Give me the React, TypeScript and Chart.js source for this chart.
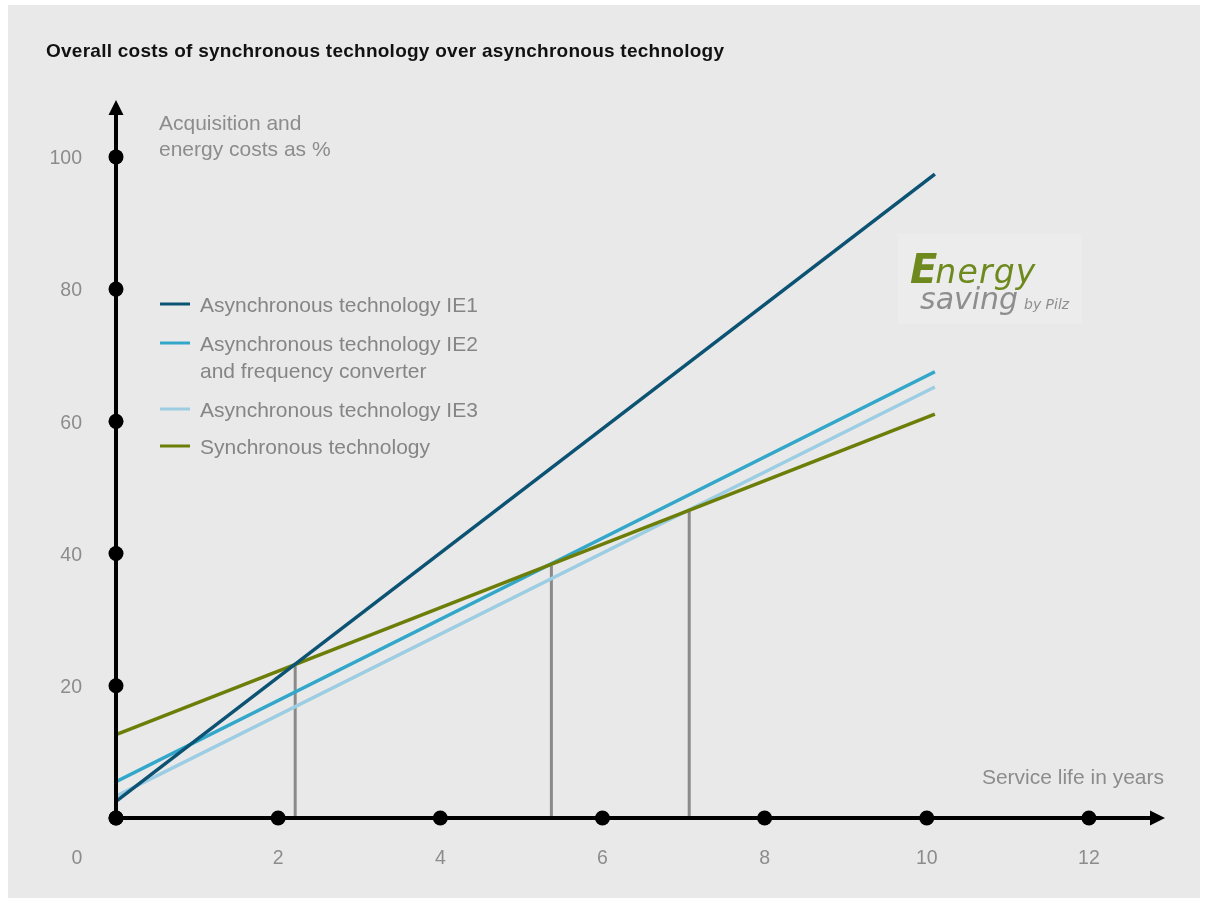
import React, { useEffect, useRef } from "react";
import { Chart, registerables } from "chart.js";

Chart.register(...registerables);

const TITLE = "Overall costs of synchronous technology over asynchronous technology";
const Y_TITLE = ["Acquisition and", "energy costs as %"];
const X_TITLE = "Service life in years";
const X_TICKS = [0, 2, 4, 6, 8, 10, 12];
const Y_TICKS = [0, 20, 40, 60, 80, 100];

const SERIES_NAMES = [
  ["Asynchronous technology IE1"],
  ["Asynchronous technology IE2", "and frequency converter"],
  ["Asynchronous technology IE3"],
  ["Synchronous technology"],
];
const SERIES_COLORS = ["#0b5273", "#32a7c9", "#9ccde3", "#6c7e08"];
const YEARS = [0, 10.1];
const IE1 = [2.5, 97.4];
const IE2 = [5.5, 67.5];
const IE3 = [3.3, 65.2];
const SYNC = [12.6, 61.1];
const SERIES_VALUES = [IE1, IE2, IE3, SYNC];
const SERIES_ORDER = [0, 2, 3, 1];

const BREAK_EVEN_X = [2.21, 5.37, 7.07];
const BREAK_EVEN_Y = [23.1, 38.2, 46.4];

const GRAY_TEXT = "#8c8c8c";
const FONT = "'Liberation Sans', Arial, Helvetica, sans-serif";

function fitText(ctx: any, text: string, x: number, y: number, target: number) {
  ctx.letterSpacing = "0px";
  const w = ctx.measureText(text).width;
  const sp = (target - w) / Math.max(1, text.length - 1);
  ctx.letterSpacing = `${sp}px`;
  ctx.fillText(text, x, y);
  ctx.letterSpacing = "0px";
}

const decorPlugin = {
  id: "decor",
  beforeDatasetsDraw(chart: any) {
    const { ctx, chartArea, scales } = chart;
    const xs = scales.x;
    const ys = scales.y;
    ctx.save();
    // title
    ctx.fillStyle = "#111";
    ctx.font = `bold 19px ${FONT}`;
    ctx.textBaseline = "middle";
    ctx.textAlign = "left";
    fitText(ctx, TITLE, 38, 47, 678);

    // logo box
    ctx.fillStyle = "#ececec";
    ctx.fillRect(890, 229, 184, 90);
    ctx.fillStyle = "#6e8a1e";
    ctx.textBaseline = "alphabetic";
    ctx.font = `italic bold 40px 'DejaVu Sans', ${FONT}`;
    ctx.fillText("E", 902, 278);
    const ew = ctx.measureText("E").width;
    ctx.font = `italic 33px 'DejaVu Sans', ${FONT}`;
    fitText(ctx, "nergy", 902 + ew - 2, 278, 100);
    ctx.fillStyle = "#8e8e8e";
    ctx.font = `italic 30px 'DejaVu Sans', ${FONT}`;
    ctx.fillText("saving", 912, 304);
    ctx.font = `italic 14px 'DejaVu Sans', ${FONT}`;
    ctx.fillText("by Pilz", 1016, 304);

    // axis titles
    ctx.fillStyle = GRAY_TEXT;
    ctx.font = `21px ${FONT}`;
    ctx.textBaseline = "middle";
    ctx.textAlign = "left";
    ctx.fillText(Y_TITLE[0], 151, 119);
    ctx.fillText(Y_TITLE[1], 151, 145);
    ctx.textAlign = "right";
    ctx.fillText(X_TITLE, 1156, 773);

    // tick labels
    ctx.font = `19.5px ${FONT}`;
    ctx.textAlign = "right";
    Y_TICKS.forEach((v) => {
      if (v === 0) return;
      ctx.fillText(String(v), xs.getPixelForValue(0) - 34, ys.getPixelForValue(v) + 2);
    });
    ctx.textAlign = "center";
    X_TICKS.forEach((v) => {
      const px = v === 0 ? xs.getPixelForValue(0) - 39 : xs.getPixelForValue(v);
      ctx.fillText(String(v), px, chartArea.bottom + 41);
    });

    // legend
    const legendY = [[299], [338, 365], [404], [441]];
    ctx.font = `21px ${FONT}`;
    ctx.textAlign = "left";
    SERIES_NAMES.forEach((lines, i) => {
      ctx.strokeStyle = SERIES_COLORS[i];
      ctx.lineWidth = 3;
      ctx.beginPath();
      ctx.moveTo(152, legendY[i][0]);
      ctx.lineTo(182, legendY[i][0]);
      ctx.stroke();
      ctx.fillStyle = "#858585";
      lines.forEach((t, j) => ctx.fillText(t, 192, legendY[i][j] + 2));
    });
    ctx.restore();
  },
  afterDatasetsDraw(chart: any) {
    const { ctx, chartArea, scales } = chart;
    const xs = scales.x;
    const ys = scales.y;
    const x0 = xs.getPixelForValue(0);
    const y0 = ys.getPixelForValue(0);
    ctx.save();
    ctx.strokeStyle = "#000";
    ctx.fillStyle = "#000";
    ctx.lineWidth = 4;
    // y axis
    const yTip = chartArea.top - 4;
    ctx.beginPath();
    ctx.moveTo(x0, y0);
    ctx.lineTo(x0, yTip + 12);
    ctx.stroke();
    ctx.beginPath();
    ctx.moveTo(x0, yTip);
    ctx.lineTo(x0 - 7.5, yTip + 15);
    ctx.lineTo(x0 + 7.5, yTip + 15);
    ctx.closePath();
    ctx.fill();
    // x axis
    const xTip = chartArea.right - 5;
    ctx.beginPath();
    ctx.moveTo(x0, y0);
    ctx.lineTo(xTip - 12, y0);
    ctx.stroke();
    ctx.beginPath();
    ctx.moveTo(xTip, y0);
    ctx.lineTo(xTip - 15, y0 - 7.5);
    ctx.lineTo(xTip - 15, y0 + 7.5);
    ctx.closePath();
    ctx.fill();
    // dots
    X_TICKS.forEach((v) => {
      ctx.beginPath();
      ctx.arc(xs.getPixelForValue(v), y0, 7.5, 0, Math.PI * 2);
      ctx.fill();
    });
    Y_TICKS.forEach((v) => {
      ctx.beginPath();
      ctx.arc(x0, ys.getPixelForValue(v), 7.5, 0, Math.PI * 2);
      ctx.fill();
    });
    ctx.restore();
  },
};

export default function App() {
  const ref = useRef<HTMLCanvasElement>(null);
  useEffect(() => {
    if (!ref.current) return;
    const datasets: any[] = SERIES_VALUES.map((vals, i) => ({
      label: SERIES_NAMES[i].join(" "),
      data: YEARS.map((x, k) => ({ x, y: vals[k] })),
      borderColor: SERIES_COLORS[i],
      borderWidth: 3.5,
      pointRadius: 0,
      order: SERIES_ORDER[i],
      borderCapStyle: "butt",
    }));
    BREAK_EVEN_X.forEach((x, i) => {
      datasets.push({
        label: `break-even ${i + 1}`,
        data: [
          { x, y: 0 },
          { x, y: BREAK_EVEN_Y[i] },
        ],
        borderColor: "#8a8a8a",
        borderWidth: 3,
        pointRadius: 0,
        order: 10 + i,
      });
    });
    const chart = new Chart(ref.current, {
      type: "line",
      data: { datasets },
      options: {
        animation: false,
        responsive: false,
        devicePixelRatio: 1,
        layout: { padding: { left: 108, right: 30, top: 99, bottom: 80 } },
        plugins: { legend: { display: false }, tooltip: { enabled: false }, title: { display: false } },
        scales: {
          x: { type: "linear", min: 0, max: 13, display: false },
          y: { type: "linear", min: 0, max: 108, display: false },
        },
      },
      plugins: [decorPlugin],
    });
    return () => chart.destroy();
  }, []);
  return (
    <div style={{ position: "absolute", left: 8, top: 5, width: 1192, height: 893, background: "#e9e9e9" }}>
      <canvas ref={ref} width={1192} height={893} style={{ display: "block" }} />
    </div>
  );
}
